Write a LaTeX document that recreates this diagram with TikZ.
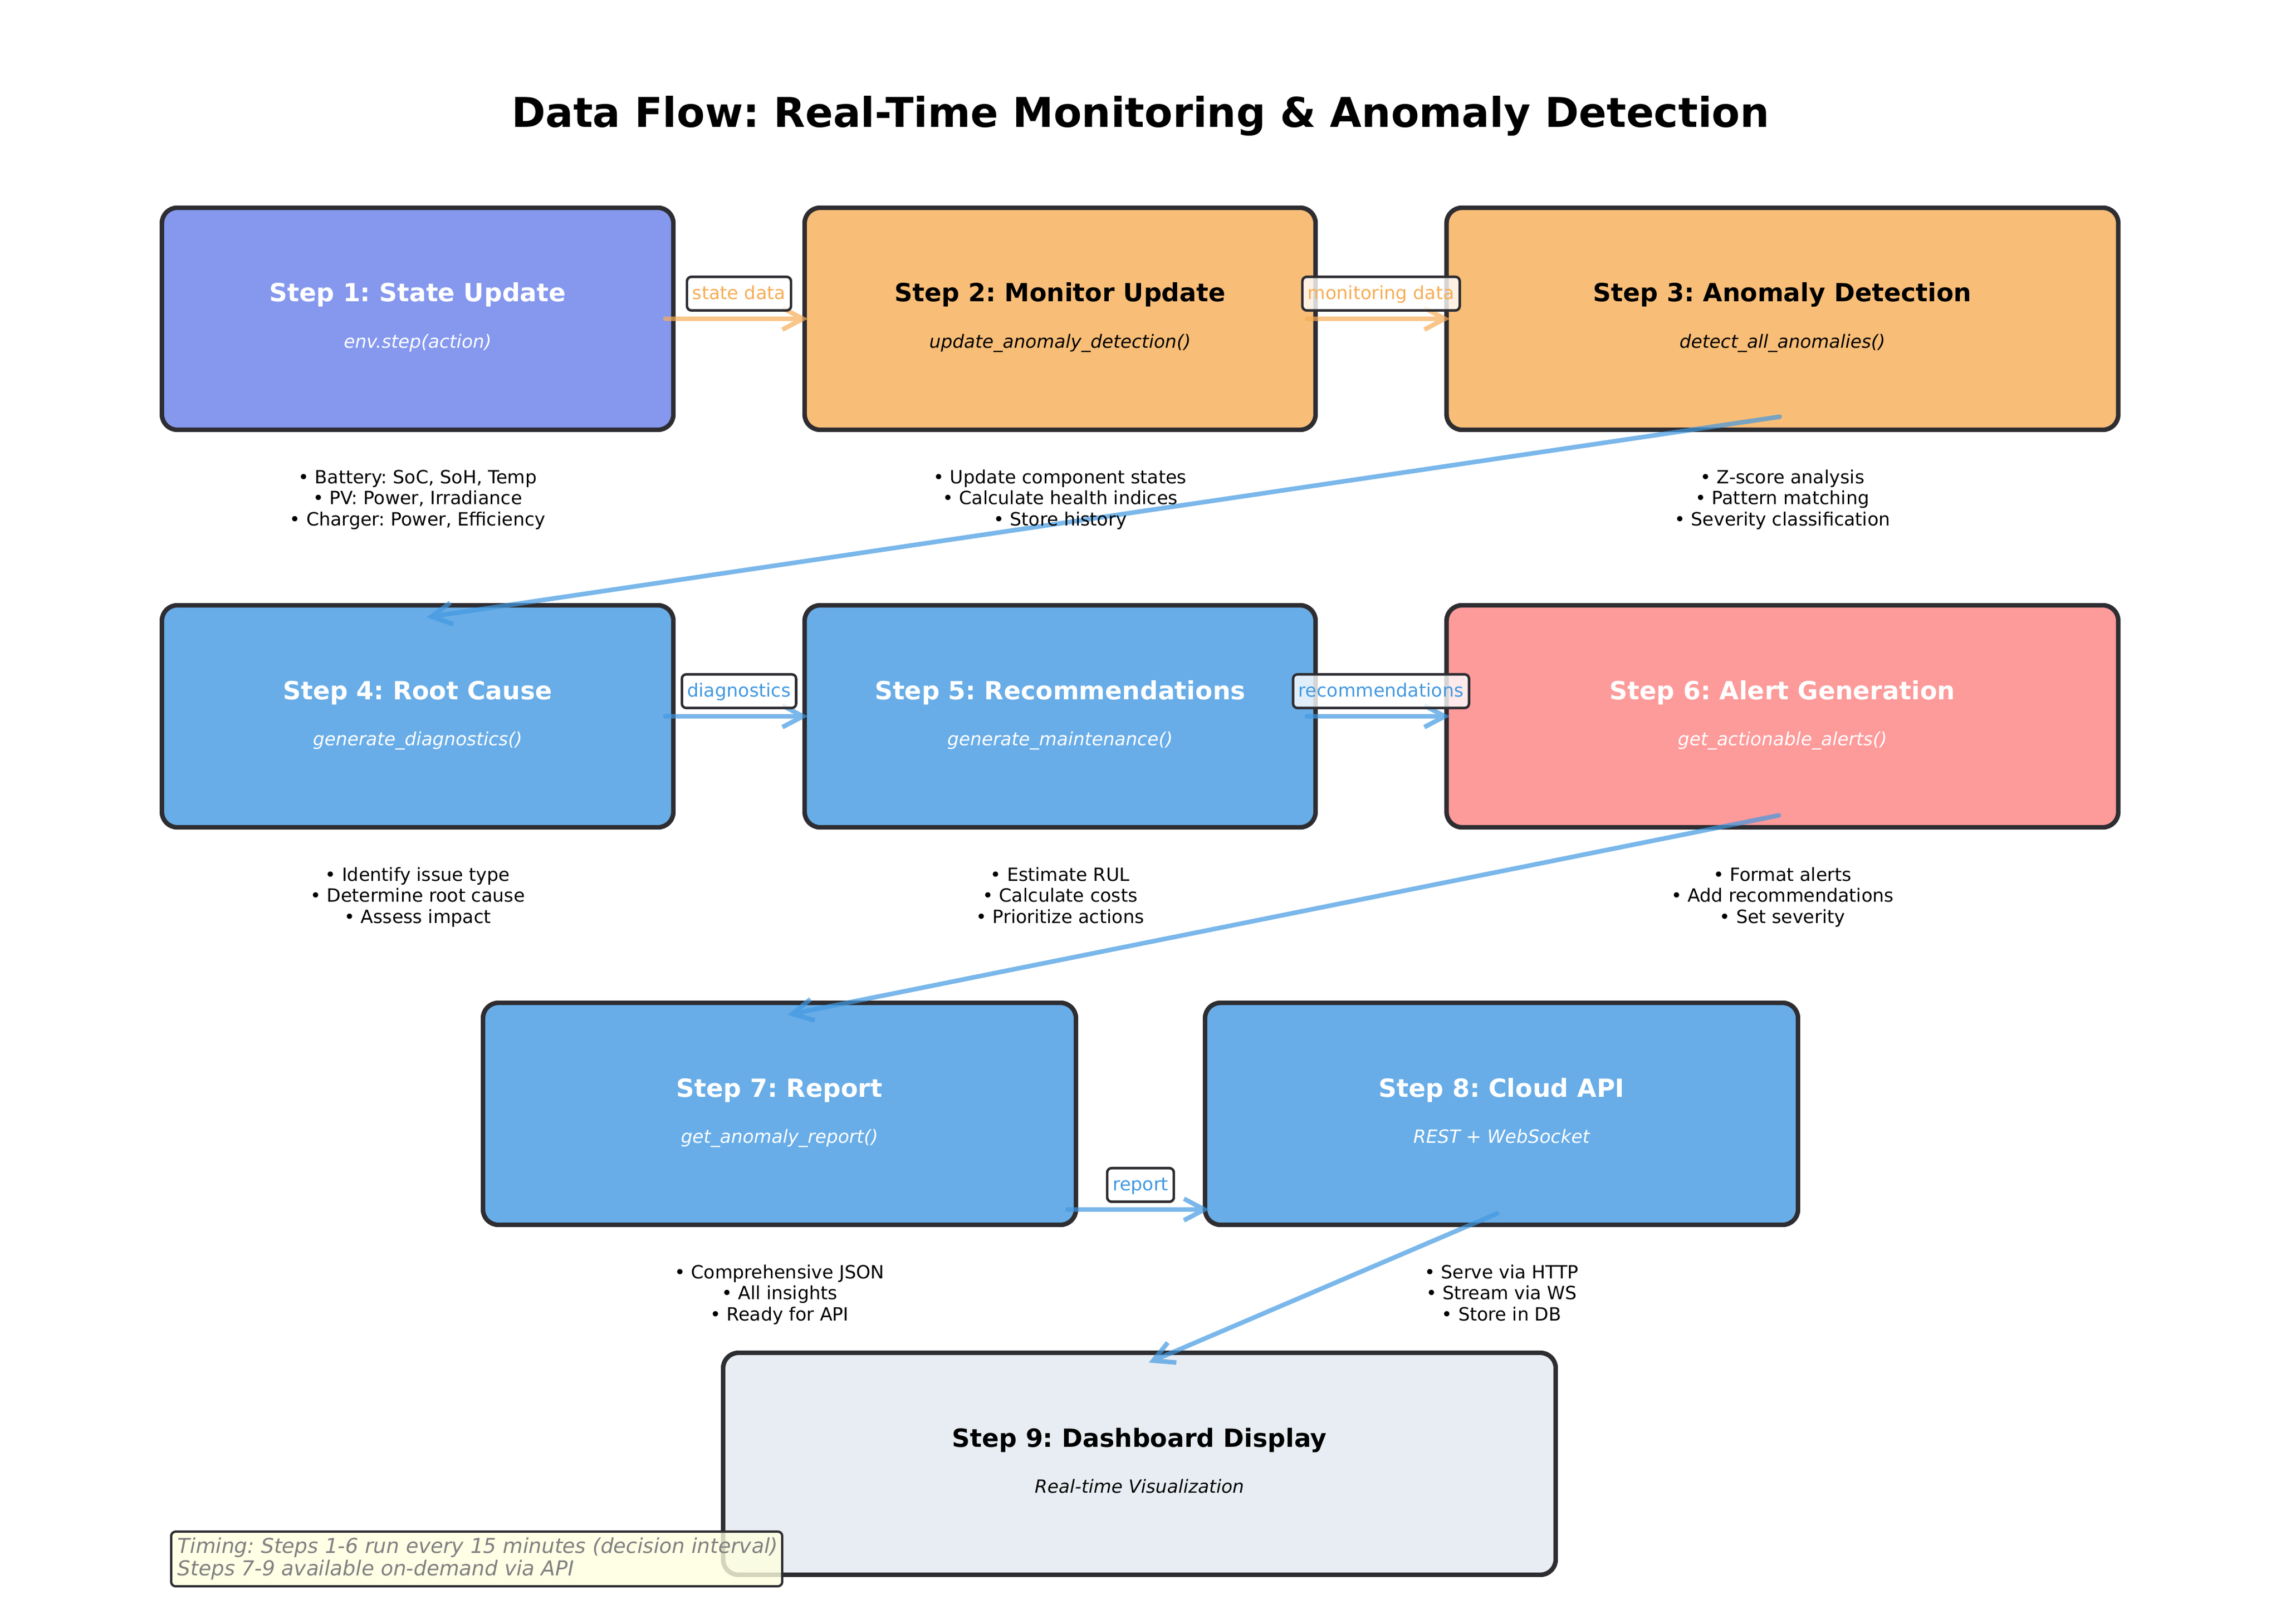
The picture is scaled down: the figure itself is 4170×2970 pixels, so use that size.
\documentclass[tikz,border=0pt]{standalone}
\usepackage{fontspec}
\setmainfont{DejaVu Sans}
\usetikzlibrary{arrows.meta,calc}
\frenchspacing
\newdimen\pxu \pxu=0.24bp
\definecolor{cpurple}{RGB}{133,152,238}
\definecolor{corange}{RGB}{248,189,119}
\definecolor{cblue}{RGB}{104,173,231}
\definecolor{cred}{RGB}{253,154,154}
\definecolor{cgray}{RGB}{232,237,243}
\definecolor{cedge}{RGB}{45,45,50}
\definecolor{aorange}{HTML}{F6AD55}
\definecolor{ablue}{HTML}{4299E1}
\definecolor{notefill}{RGB}{255,255,224}
\definecolor{notetext}{RGB}{128,128,128}
\newcommand\tri[3]{\vtop{\baselineskip=9.24bp\lineskiplimit=-20bp\halign{\hfil##\hfil\cr#1\cr#2\cr#3\cr}}}
\newcommand\twoleft[2]{\vtop{\baselineskip=9.84bp\lineskiplimit=-20bp\hbox{#1}\hbox{#2}}}
\begin{document}
\frenchspacing
\begin{tikzpicture}[x=0.24bp, y=-0.24bp,
  stepbox/.style={draw=cedge, line width=2bp, rounded corners=28\pxu, minimum height=406\pxu, inner sep=0pt},
  ttl/.style={anchor=base, inner sep=0pt, font=\fontsize{11bp}{13bp}\selectfont\bfseries},
  subtxt/.style={anchor=base, inner sep=0pt, font=\fontsize{8bp}{9.6bp}\selectfont\itshape},
  bul/.style={anchor=base, inner sep=0pt, font=\fontsize{8bp}{9.6bp}\selectfont},
  lbl/.style={draw=cedge, line width=1.1bp, fill=white, fill opacity=0.8, text opacity=1,
     rounded corners=8\pxu, inner xsep=10\pxu, inner ysep=10\pxu, text height=0.76em, text depth=0.24em,
     font=\fontsize{8bp}{9.6bp}\selectfont},
  arrbase/.style={line width=2bp, line cap=round, -{Straight Barb[length=9bp,width=9.5bp]}},
  arrO/.style={arrbase, draw=aorange},
  arrB/.style={arrbase, draw=ablue},
  notebox/.style={draw=cedge, line width=1bp, fill=notefill, fill opacity=0.8, rounded corners=8\pxu, inner sep=0pt}
]
\useasboundingbox (0,0) rectangle (4170,2970);

% title
\node[anchor=base, inner sep=0pt, font=\fontsize{18bp}{22bp}\selectfont\bfseries] (title) at (2085,233)
  {Data Flow: Real-Time Monitoring \& Anomaly Detection};

% boxes
\node[stepbox, fill=cpurple, minimum width=935\pxu]  (s1) at (763.5,583) {};
\node[stepbox, fill=corange, minimum width=934\pxu]  (s2) at (1938,583) {};
\node[stepbox, fill=corange, minimum width=1228\pxu] (s3) at (3258.5,583) {};
\node[stepbox, fill=cblue,   minimum width=935\pxu]  (s4) at (763.5,1310) {};
\node[stepbox, fill=cblue,   minimum width=934\pxu]  (s5) at (1938,1310) {};
\node[stepbox, fill=cred,    minimum width=1228\pxu] (s6) at (3258.5,1310) {};
\node[stepbox, fill=cblue,   minimum width=1084\pxu] (s7) at (1425,2037) {};
\node[stepbox, fill=cblue,   minimum width=1084\pxu] (s8) at (2745,2037) {};
\node[stepbox, fill=cgray,   minimum width=1522\pxu] (s9) at (2083,2677) {};

% arrows
\begin{scope}[transparency group, opacity=0.7]
\draw[arrO] ($(s1.east)+(-19,0)$) -- ($(s2.west)+(10,0)$);
\draw[arrO] ($(s2.east)+(-20,0)$) -- ($(s3.west)+(10,0)$);
\draw[arrB] ($(s3.south)+(-5,-28)$) -- ($(s4.north)+(16.5,26)$);
\draw[arrB] ($(s4.east)+(-19,0)$) -- ($(s5.west)+(10,0)$);
\draw[arrB] ($(s5.east)+(-20,0)$) -- ($(s6.west)+(10,0)$);
\draw[arrB] ($(s6.south)+(-6.5,-26)$) -- ($(s7.north)+(15,26)$);
\draw[arrB] ($(s7.east)+(-20,175)$) -- ($(s8.west)+(12,175)$);
\draw[arrB] ($(s8.south)+(-8,-25)$) -- ($(s9.north)+(17,22)$);
\end{scope}

% arrow labels
\node[lbl, text=aorange] (l12) at ($($(s1.east)!0.5!(s2.west)$)+(0,-46)$) {state data};
\node[lbl, text=aorange] (l23) at ($($(s2.east)!0.5!(s3.west)$)+(0,-46)$) {monitoring data};
\node[lbl, text=ablue] (l45) at ($($(s4.east)!0.5!(s5.west)$)+(0,-46)$) {diagnostics};
\node[lbl, text=ablue] (l56) at ($($(s5.east)!0.5!(s6.west)$)+(0,-46)$) {recommendations};
\node[lbl, text=ablue] (l78) at ($($(s7.east)!0.5!(s8.west)$)+(0,130)$) {report};

% step texts
\node[ttl, text=white] (t1) at ($(s1.center)+(0,-31)$) {Step 1: State Update};
\node[subtxt, text=white] (u1) at ($(s1.center)+(0,53)$) {env.step(action)};
\node[bul] (b1) at ($(s1.center)+(0,301)$) {\tri{• Battery: SoC, SoH, Temp}{• PV: Power, Irradiance}{• Charger: Power, Efficiency}};

\node[ttl, text=black] (t2) at ($(s2.center)+(0,-31)$) {Step 2: Monitor Update};
\node[subtxt, text=black] (u2) at ($(s2.center)+(0,53)$) {update\_anomaly\_detection()};
\node[bul] (b2) at ($(s2.center)+(0,301)$) {\tri{• Update component states}{• Calculate health indices}{• Store history}};

\node[ttl, text=black] (t3) at ($(s3.center)+(0,-31)$) {Step 3: Anomaly Detection};
\node[subtxt, text=black] (u3) at ($(s3.center)+(0,53)$) {detect\_all\_anomalies()};
\node[bul] (b3) at ($(s3.center)+(0,301)$) {\tri{• Z-score analysis}{• Pattern matching}{• Severity classification}};

\node[ttl, text=white] (t4) at ($(s4.center)+(0,-31)$) {Step 4: Root Cause};
\node[subtxt, text=white] (u4) at ($(s4.center)+(0,53)$) {generate\_diagnostics()};
\node[bul] (b4) at ($(s4.center)+(0,301)$) {\tri{• Identify issue type}{• Determine root cause}{• Assess impact}};

\node[ttl, text=white] (t5) at ($(s5.center)+(0,-31)$) {Step 5: Recommendations};
\node[subtxt, text=white] (u5) at ($(s5.center)+(0,53)$) {generate\_maintenance()};
\node[bul] (b5) at ($(s5.center)+(0,301)$) {\tri{• Estimate RUL}{• Calculate costs}{• Prioritize actions}};

\node[ttl, text=white] (t6) at ($(s6.center)+(0,-31)$) {Step 6: Alert Generation};
\node[subtxt, text=white] (u6) at ($(s6.center)+(0,53)$) {get\_actionable\_alerts()};
\node[bul] (b6) at ($(s6.center)+(0,301)$) {\tri{• Format alerts}{• Add recommendations}{• Set severity}};

\node[ttl, text=white] (t7) at ($(s7.center)+(0,-31)$) {Step 7: Report};
\node[subtxt, text=white] (u7) at ($(s7.center)+(0,53)$) {get\_anomaly\_report()};
\node[bul] (b7) at ($(s7.center)+(0,301)$) {\tri{• Comprehensive JSON}{• All insights}{• Ready for API}};

\node[ttl, text=white] (t8) at ($(s8.center)+(0,-31)$) {Step 8: Cloud API};
\node[subtxt, text=white] (u8) at ($(s8.center)+(0,53)$) {REST + WebSocket};
\node[bul] (b8) at ($(s8.center)+(0,301)$) {\tri{• Serve via HTTP}{• Stream via WS}{• Store in DB}};

\node[ttl, text=black] (t9) at ($(s9.center)+(0,-31)$) {Step 9: Dashboard Display};
\node[subtxt, text=black] (u9) at ($(s9.center)+(0,53)$) {Real-time Visualization};

% timing note
\node[notebox, minimum width=1117\pxu, minimum height=100\pxu] (note) at (871.5,2851) {};
\node[anchor=base west, inner sep=0pt, text=notetext, font=\fontsize{9bp}{10.8bp}\selectfont\itshape] (notetxt) at (324,2840)
  {\twoleft{Timing: Steps 1-6 run every 15 minutes (decision interval)}{Steps 7-9 available on-demand via API}};
\end{tikzpicture}
\end{document}
